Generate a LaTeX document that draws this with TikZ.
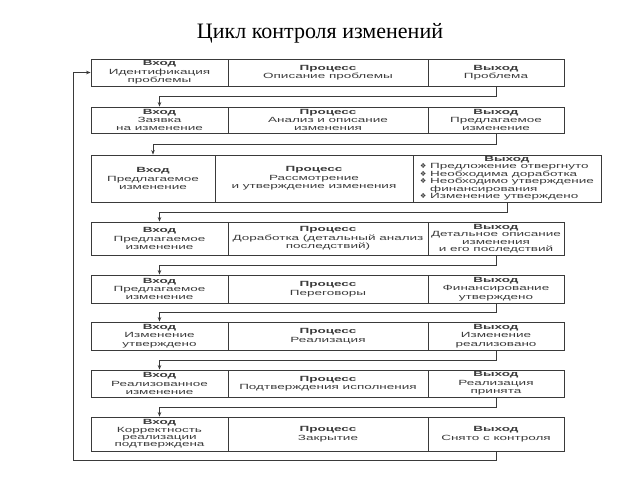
\documentclass[tikz,border=0pt]{standalone}
\usepackage{fontspec}
\setmainfont{Liberation Serif}
\newfontfamily\cellfont[FakeStretch=1.8]{Liberation Sans}
\newfontfamily\symfont{DejaVu Sans}
\usetikzlibrary{arrows.meta,calc}
\definecolor{linec}{HTML}{3A3A3A}
\definecolor{textc}{HTML}{3C3C3C}
\newcommand\mkcell[7][]{\node[cell, minimum width={#5pt-#3pt}, minimum height={#6pt-#4pt}, #1] (#2) at ({(#3+#5)/2},{(#4+#6)/2}) {#7};}
\newcommand\bul{{\symfont\fontsize{7}{7}\selectfont ❖}\ }
\begin{document}
\begin{tikzpicture}[x=1pt,y=-1pt,
  cell/.style={draw=linec, line width=0.9pt, inner sep=0pt, align=center, text=textc,
    font=\cellfont\fontsize{7.5}{8.4}\selectfont},
  tight/.style={font=\cellfont\fontsize{7.5}{7.4}\selectfont},
  conn/.style={draw=linec, line width=0.9pt},
  arr/.style={conn, -{Stealth[length=4.5pt,width=3.6pt]}},
  ttl/.style={font=\fontsize{22}{26}\selectfont, text=black, inner sep=0pt}]
\useasboundingbox (0,0) rectangle (640,480);
\fill[white] (0,0) rectangle (640,480);

\node[ttl, anchor=base] (title) at (320,38) {Цикл контроля изменений};

% Row 1
\mkcell{r1i}{91}{59}{228}{86}{\textbf{Вход}\\Идентификация\\проблемы}
\mkcell{r1p}{228}{59}{428}{86}{\textbf{Процесс}\\Описание проблемы}
\mkcell{r1o}{428}{59}{564}{86}{\textbf{Выход}\\Проблема}
% Row 2
\mkcell{r2i}{91}{107}{228}{133}{\textbf{Вход}\\Заявка\\на изменение}
\mkcell{r2p}{228}{107}{428}{133}{\textbf{Процесс}\\Анализ и описание\\изменения}
\mkcell{r2o}{428}{107}{564}{133}{\textbf{Выход}\\Предлагаемое\\изменение}
% Row 3
\mkcell{r3i}{91}{155}{215}{202}{\textbf{Вход}\\Предлагаемое\\изменение}
\mkcell{r3p}{215}{155}{413}{202}{\textbf{Процесс}\\Рассмотрение\\и утверждение изменения}
\mkcell{r3o}{413}{155}{601}{202}{\fontsize{7.5}{7.3}\selectfont\begin{tabular}{@{}l@{}}
\multicolumn{1}{@{}c@{}}{\textbf{Выход}}\\
\bul Предложение отвергнуто\\
\bul Необходима доработка\\
\bul Необходимо утверждение\\
\phantom{\bul}финансирования\\
\bul Изменение утверждено
\end{tabular}}
% Row 4
\mkcell{r4i}{91}{222}{228}{255}{\textbf{Вход}\\Предлагаемое\\изменение}
\mkcell{r4p}{228}{222}{428}{255}{\textbf{Процесс}\\Доработка (детальный анализ\\последствий)}
\mkcell[tight]{r4o}{428}{222}{564}{255}{\textbf{Выход}\\Детальное описание\\изменения\\и его последствий}
% Row 5
\mkcell{r5i}{91}{275}{228}{303}{\textbf{Вход}\\Предлагаемое\\изменение}
\mkcell{r5p}{228}{275}{428}{303}{\textbf{Процесс}\\Переговоры}
\mkcell{r5o}{428}{275}{564}{303}{\textbf{Выход}\\Финансирование\\утверждено}
% Row 6
\mkcell{r6i}{91}{322}{228}{350}{\textbf{Вход}\\Изменение\\утверждено}
\mkcell{r6p}{228}{322}{428}{350}{\textbf{Процесс}\\Реализация}
\mkcell{r6o}{428}{322}{564}{350}{\textbf{Выход}\\Изменение\\реализовано}
% Row 7
\mkcell{r7i}{91}{370}{228}{397}{\textbf{Вход}\\Реализованное\\изменение}
\mkcell{r7p}{228}{370}{428}{397}{\textbf{Процесс}\\Подтверждения исполнения}
\mkcell{r7o}{428}{370}{564}{397}{\textbf{Выход}\\Реализация\\принята}
% Row 8
\mkcell[tight]{r8i}{91}{417}{228}{451}{\textbf{Вход}\\Корректность\\реализации\\подтверждена}
\mkcell{r8p}{228}{417}{428}{451}{\textbf{Процесс}\\Закрытие}
\mkcell{r8o}{428}{417}{564}{451}{\textbf{Выход}\\Снято с контроля}

% connectors between rows
\foreach \a/\b in {1/2,2/3,3/4,4/5,5/6,6/7,7/8}{
  \path (r\a o.south) -- (r\a o.south |- r\b i.north) coordinate[midway] (m\a);
  \draw[arr] (r\a o.south) |- (m\a) -| (r\b i.north);
}
% feedback loop
\coordinate (fb) at (73,460);
\draw[arr] (r8o.south) |- (fb) |- (r1i.west);
\end{tikzpicture}
\end{document}
